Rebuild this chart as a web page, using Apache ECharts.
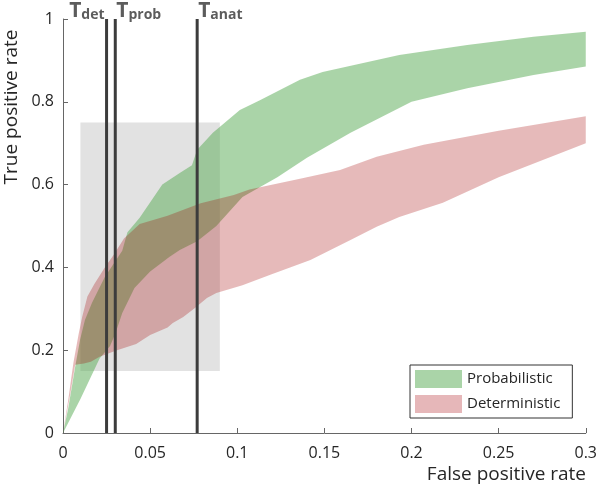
<!DOCTYPE html>
<html>
<head>
<meta charset="utf-8">
<script src="https://cdn.jsdelivr.net/npm/echarts@6/dist/echarts.min.js"></script>
<style>html,body{margin:0;padding:0;background:#fff}#c{width:600px;height:487px}</style>
</head>
<body>
<div id="c"></div>
<script>
// Probabilistic (green) band boundaries [FPR, TPR]
const probUpper = [[0,0],[0.003,0.06],[0.007,0.16],[0.0098,0.225],[0.0126,0.273],[0.0166,0.314],[0.024,0.377],[0.034,0.44],[0.037,0.485],[0.044,0.52],[0.057,0.60],[0.067,0.628],[0.074,0.647],[0.077,0.684],[0.086,0.725],[0.1015,0.78],[0.113,0.804],[0.136,0.853],[0.149,0.872],[0.193,0.913],[0.232,0.937],[0.27,0.957],[0.3,0.969]];
const probLower = [[0,0],[0.01,0.082],[0.021,0.18],[0.027,0.21],[0.03,0.24],[0.034,0.29],[0.041,0.35],[0.05,0.39],[0.061,0.425],[0.067,0.442],[0.077,0.463],[0.088,0.50],[0.103,0.57],[0.123,0.618],[0.14,0.665],[0.165,0.725],[0.2,0.80],[0.232,0.833],[0.27,0.865],[0.3,0.885]];
// Deterministic (red) band boundaries
const detUpper = [[0,0],[0.003,0.08],[0.006,0.17],[0.009,0.24],[0.011,0.28],[0.014,0.33],[0.018,0.36],[0.024,0.40],[0.029,0.43],[0.035,0.47],[0.044,0.505],[0.06,0.525],[0.079,0.555],[0.098,0.575],[0.107,0.588],[0.136,0.614],[0.159,0.635],[0.18,0.667],[0.207,0.696],[0.25,0.73],[0.3,0.765]];
const detLower = [[0,0],[0.004,0.09],[0.007,0.165],[0.012,0.168],[0.016,0.172],[0.021,0.184],[0.031,0.20],[0.042,0.215],[0.05,0.237],[0.06,0.255],[0.063,0.266],[0.069,0.28],[0.0757,0.302],[0.0826,0.326],[0.088,0.338],[0.103,0.357],[0.119,0.382],[0.142,0.418],[0.165,0.466],[0.18,0.498],[0.193,0.522],[0.218,0.556],[0.25,0.618],[0.3,0.70]];
// Thresholds
const thresholdX = [0.025, 0.03, 0.077];
const thresholdNames = ['det', 'prob', 'anat'];
// Grey region [x0, y0, x1, y1]
const roiBox = [0.01, 0.15, 0.09, 0.75];
const xTicks = [0, 0.05, 0.1, 0.15, 0.2, 0.25, 0.3];
const yTicks = [0, 0.2, 0.4, 0.6, 0.8, 1];

const FONT = 'Open Sans';
const GREEN = 'rgba(85,169,81,0.5)';
const RED = 'rgba(163,0,0,0.27)';
const GREEN_SWATCH = '#aad4a8';
const RED_SWATCH = '#e6b7b9';

function band(name, upper, lower, color, swatch, z) {
  return {
    type: 'custom', name: name, z: z,
    itemStyle: { color: swatch },
    data: [[0, 0]],
    renderItem: function (params, api) {
      const pts = upper.map(p => api.coord(p)).concat(lower.slice().reverse().map(p => api.coord(p)));
      return { type: 'polygon', shape: { points: pts }, style: { fill: color } };
    }
  };
}

const chart = echarts.init(document.getElementById('c'), null, { renderer: 'canvas' });
chart.setOption({
  animation: false,
  backgroundColor: '#fff',
  textStyle: { fontFamily: FONT },
  grid: { left: 63, right: 14, top: 19, bottom: 54 },
  xAxis: {
    type: 'value', min: xTicks[0], max: xTicks[xTicks.length - 1], interval: 0.05,
    splitLine: { show: false },
    axisLine: { lineStyle: { color: '#666', width: 1 } },
    axisTick: { inside: true, length: 5, lineStyle: { color: '#666' } },
    axisLabel: { fontSize: 16, color: '#262626', margin: 12, fontFamily: FONT }
  },
  yAxis: {
    type: 'value', min: yTicks[0], max: yTicks[yTicks.length - 1], interval: 0.2,
    splitLine: { show: false },
    axisLine: { show: true, lineStyle: { color: '#666', width: 1 } },
    axisTick: { show: true, inside: true, length: 5, lineStyle: { color: '#666' } },
    axisLabel: { fontSize: 16, color: '#262626', margin: 9, fontFamily: FONT }
  },
  legend: {
    data: ['Probabilistic', 'Deterministic'],
    orient: 'vertical', left: 410, top: 365,
    icon: 'rect', itemWidth: 47, itemHeight: 18, itemGap: 7, itemTextGap: 5,
    padding: [5, 12, 5, 5],
    borderColor: '#333', borderWidth: 1, backgroundColor: '#fff',
    textStyle: { fontSize: 15, color: '#262626', fontFamily: FONT }
  },
  graphic: [
    { type: 'text', x: 12, y: 107, rotation: Math.PI / 2,
      style: { text: 'True positive rate', fontSize: 19, fontFamily: FONT, fill: '#262626', align: 'center', verticalAlign: 'middle' } },
    { type: 'text', x: 586, y: 475,
      style: { text: 'False positive rate', fontSize: 19, fontFamily: FONT, fill: '#262626', align: 'right', verticalAlign: 'middle' } }
  ],
  series: [
    {
      type: 'custom', name: 'roi', z: 1, data: [roiBox],
      renderItem: function (params, api) {
        const a = api.coord([api.value(0), api.value(3)]);
        const b = api.coord([api.value(2), api.value(1)]);
        return { type: 'rect', shape: { x: a[0], y: a[1], width: b[0] - a[0], height: b[1] - a[1] }, style: { fill: '#e2e2e2' } };
      }
    },
    band('Probabilistic', probUpper, probLower, GREEN, GREEN_SWATCH, 2),
    band('Deterministic', detUpper, detLower, RED, RED_SWATCH, 3),
    {
      type: 'custom', name: 'thresholds', z: 5,
      data: thresholdX.map(x => [x]),
      renderItem: function (params, api) {
        const p0 = api.coord([api.value(0), 0]);
        const p1 = api.coord([api.value(0), 1]);
        return { type: 'line', shape: { x1: p0[0], y1: p0[1], x2: p1[0], y2: p1[1] }, style: { stroke: '#3c3c3c', lineWidth: 3 } };
      }
    },
    {
      type: 'scatter', name: 'labels', z: 6, symbolSize: 0, silent: true,
      data: thresholdX.map((x, i) => ({
        value: [x, 1], name: thresholdNames[i],
        label: i === 0 ? { align: 'right', offset: [-2, 3] } : { align: 'left', offset: [1, 3] }
      })),
      label: {
        show: true, position: 'top', distance: 0,
        formatter: p => '{t|T}{s|' + p.name + '}',
        rich: {
          t: { fontSize: 21, fontWeight: 'bold', color: '#333', lineHeight: 21, verticalAlign: 'top', fontFamily: FONT },
          s: { fontSize: 14, fontWeight: 'bold', color: '#333', lineHeight: 14, verticalAlign: 'bottom', padding: [9, 0, 0, 0], fontFamily: FONT }
        }
      }
    }
  ]
});
</script>
</body>
</html>
